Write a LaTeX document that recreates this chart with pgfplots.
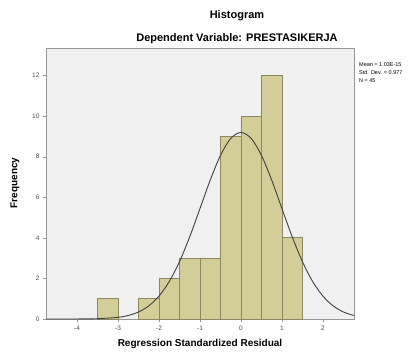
\documentclass[border=0pt]{standalone}
\usepackage{pgfplots}
\pgfplotsset{compat=1.18}
\usepackage{fontspec}
\setmainfont{Liberation Sans}
\definecolor{barfill}{RGB}{211,206,151}
\definecolor{baredge}{RGB}{140,135,96}
\definecolor{plotbg}{RGB}{240,240,240}
\definecolor{framec}{RGB}{150,150,150}
\begin{document}
\begin{tikzpicture}[x=1pt,y=1pt]
\path[use as bounding box,fill=white] (0,0) rectangle (420,351);
\begin{axis}[
  at={(46pt,32pt)}, anchor=south west,
  width=308pt, height=271pt, scale only axis,
  xmin=-4.76, xmax=2.76, ymin=0, ymax=13.35,
  axis background/.style={fill=plotbg},
  axis line style={framec, line width=0.8pt},
  xtick={-4,-3,-2,-1,0,1,2},
  ytick={0,2,4,6,8,10,12},
  xtick pos=bottom, ytick pos=left,
  tick align=outside, major tick length=3pt,
  tick style={framec},
  ticklabel style={font=\fontsize{6.5}{7.5}\selectfont, text=black!70},
  /pgf/number format/assume math mode=true,
  clip=true,
]
\addplot[ybar, bar width=0.5, bar shift=0pt, fill=barfill, draw=baredge, line width=0.8pt]
  coordinates {(-3.25,1) (-2.25,1) (-1.75,2) (-1.25,3) (-0.75,3) (-0.25,9) (0.25,10) (0.75,12) (1.25,4)};
\addplot[smooth, draw=black!75, line width=0.9pt]
  coordinates {(-4.75,0.0000) (-4.5,0.0002) (-4,0.002) (-3.5,0.015) (-3,0.082) (-2.75,0.175) (-2.5,0.348) (-2.25,0.648) (-2,1.131) (-1.75,1.847) (-1.5,2.828) (-1.25,4.054) (-1,5.443) (-0.75,6.845) (-0.5,8.061) (-0.25,8.894) (0,9.19) (0.25,8.894) (0.5,8.061) (0.75,6.845) (1,5.443) (1.25,4.054) (1.5,2.828) (1.75,1.847) (2,1.131) (2.25,0.648) (2.5,0.348) (2.75,0.175)};
\end{axis}
\node[font=\bfseries\fontsize{11}{13}\selectfont] at (237,335) {Histogram};
\node[font=\bfseries\fontsize{11}{13}\selectfont] at (237,312) {Dependent Variable: PRESTASIKERJA};
\node[font=\bfseries\fontsize{10}{12}\selectfont, rotate=90] at (15,168) {Frequency};
\node[font=\bfseries\fontsize{10}{12}\selectfont] at (200,7) {Regression Standardized Residual};
\node[font=\fontsize{5.5}{8}\selectfont, anchor=north west, align=left, inner sep=0pt] at (359,289) {Mean = 1.03E-15\\Std. Dev. = 0.977\\N = 45};
\end{tikzpicture}
\end{document}
